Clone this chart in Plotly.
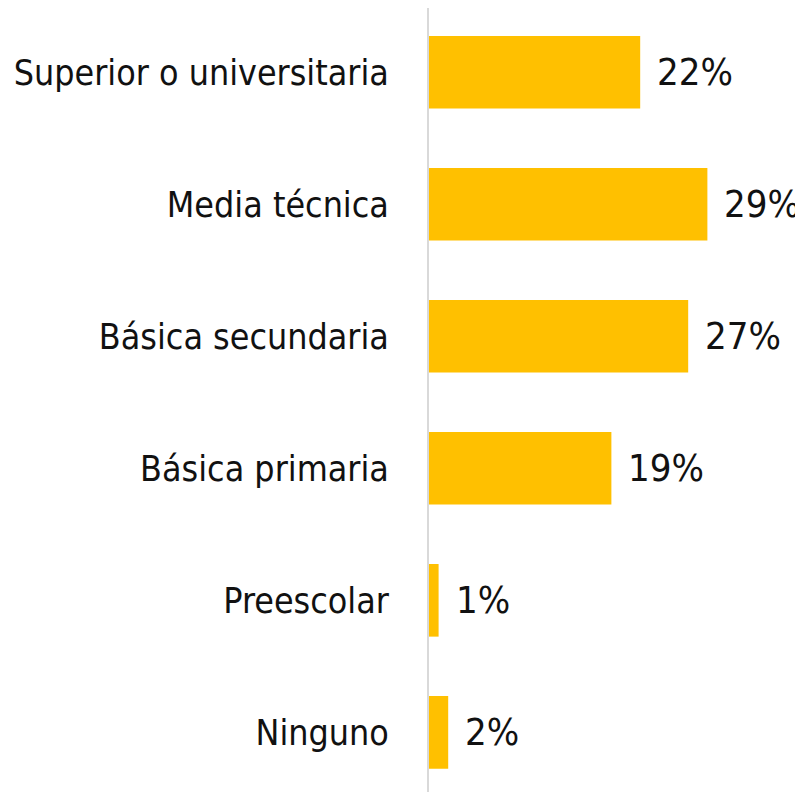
import plotly.graph_objects as go

categories = ["Superior o universitaria", "Media técnica", "Básica secundaria",
              "Básica primaria", "Preescolar", "Ninguno"]
values = [22, 29, 27, 19, 1, 2]
labels = [f"{v}%" for v in values]

FONT = "DejaVu Sans Condensed, Roboto, sans-serif"

fig = go.Figure()
fig.add_trace(go.Bar(
    x=values, y=categories, orientation="h",
    marker=dict(color="#FFC000", line=dict(width=0)),
    width=0.55, hoverinfo="skip",
))

for c, v, t in zip(categories, values, labels):
    fig.add_annotation(x=v, y=c, text=t, showarrow=False, xanchor="left",
                       xshift=15, font=dict(family=FONT, size=38, color="#111111"))

fig.update_layout(
    width=795, height=784,
    margin=dict(l=421, r=0, t=0, b=0),
    paper_bgcolor="white", plot_bgcolor="white",
    showlegend=False,
    font=dict(family=FONT, size=35.5, color="#111111"),
    xaxis=dict(range=[0, 38.96], visible=False, fixedrange=True),
    yaxis=dict(
        categoryorder="array", categoryarray=categories,
        range=[5.452, -0.487], showline=True, linecolor="#D9D9D9", linewidth=2,
        showgrid=False, zeroline=False, ticks="", ticklabelstandoff=31,
        automargin=False,
        tickfont=dict(family=FONT, size=35.5, color="#111111"),
    ),
)

fig.write_html("out.html")
